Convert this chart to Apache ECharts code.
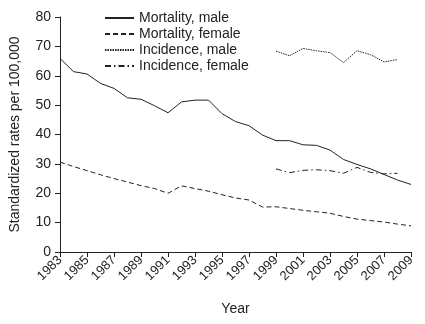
<!DOCTYPE html>
<html>
<head>
<meta charset="utf-8">
<script src="https://cdn.jsdelivr.net/npm/echarts@6/dist/echarts.min.js"></script>
<style>
  html, body { margin: 0; padding: 0; background: #fff; }
</style>
</head>
<body>
<div id="rateChart" style="width:425px;height:324px;"></div>
<script>
  // years 1983..2009
  const years = ['1983', '1984', '1985', '1986', '1987', '1988', '1989', '1990', '1991', '1992', '1993', '1994', '1995', '1996', '1997', '1998', '1999', '2000', '2001', '2002', '2003', '2004', '2005', '2006', '2007', '2008', '2009']
  const mortalityMale = [65.9, 61.4, 60.6, 57.4, 55.7, 52.5, 52.0, 49.8, 47.4, 51.1, 51.7, 51.7, 47.1, 44.4, 43.0, 39.8, 37.9, 37.9, 36.5, 36.3, 34.7, 31.5, 29.8, 28.3, 26.4, 24.5, 23.0]
  const mortalityFemale = [30.6, 29.1, 27.7, 26.3, 25.0, 23.8, 22.6, 21.6, 20.0, 22.5, 21.6, 20.7, 19.5, 18.4, 17.7, 15.3, 15.4, 14.8, 14.2, 13.7, 13.2, 12.1, 11.2, 10.7, 10.2, 9.5, 8.9]
  const incidenceMale = [null, null, null, null, null, null, null, null, null, null, null, null, null, null, null, null, 68.4, 66.8, 69.3, 68.5, 67.9, 64.5, 68.5, 67.2, 64.7, 65.5, null]
  const incidenceFemale = [null, null, null, null, null, null, null, null, null, null, null, null, null, null, null, null, 28.3, 27.0, 27.8, 28.0, 27.7, 26.8, 28.8, 27.1, 26.6, 26.8, null]

  const ink = '#222'
  const font = 'Liberation Sans, Arial, sans-serif'

  function lineSeries(name, data, type) {
    return {
      name: name,
      type: 'line',
      data: data,
      symbol: 'none',
      connectNulls: false,
      lineStyle: { color: ink, width: 1, type: type },
      itemStyle: { color: ink }
    }
  }

  let rateChart = echarts.init(document.getElementById('rateChart'))
  rateChart.setOption({
    animation: false,
    textStyle: { fontFamily: font },
    grid: { left: 53, right: 14, top: 17, bottom: 72 },
    legend: {
      left: 99,
      top: 6,
      orient: 'vertical',
      itemWidth: 29,
      itemHeight: 10,
      itemGap: 2,
      itemStyle: { opacity: 0 },  // hide the circle, keep the line sample
      textStyle: { color: ink, fontSize: 14, fontFamily: font },
      data: ['Mortality, male', 'Mortality, female', 'Incidence, male', 'Incidence, female']
    },
    xAxis: {
      type: 'category',
      data: years,
      boundaryGap: false,
      name: 'Year',
      nameLocation: 'middle',
      nameGap: 50,
      nameTextStyle: { color: ink, fontSize: 14 },
      axisLine: { lineStyle: { color: ink } },
      axisTick: { interval: 1, length: 5, lineStyle: { color: ink } },
      axisLabel: { interval: 1, rotate: 45, color: ink, fontSize: 13, margin: 6 },
      splitLine: { show: false }
    },
    yAxis: {
      type: 'value',
      min: 0,
      max: 80,
      interval: 10,
      name: 'Standardized rates per 100,000',
      nameLocation: 'middle',
      nameGap: 38,
      nameTextStyle: { color: ink, fontSize: 14 },
      axisLine: { show: true, lineStyle: { color: ink } },
      axisTick: { show: true, length: 5, lineStyle: { color: ink } },
      axisLabel: { color: ink, fontSize: 14, margin: 9 },
      splitLine: { show: false }
    },
    series: [
      lineSeries('Mortality, male', mortalityMale, 'solid'),
      lineSeries('Mortality, female', mortalityFemale, [5, 3]),
      lineSeries('Incidence, male', incidenceMale, [1.5, 1]),
      lineSeries('Incidence, female', incidenceFemale, [6, 3, 1.5, 3])
    ]
  })
</script>
</body>
</html>
